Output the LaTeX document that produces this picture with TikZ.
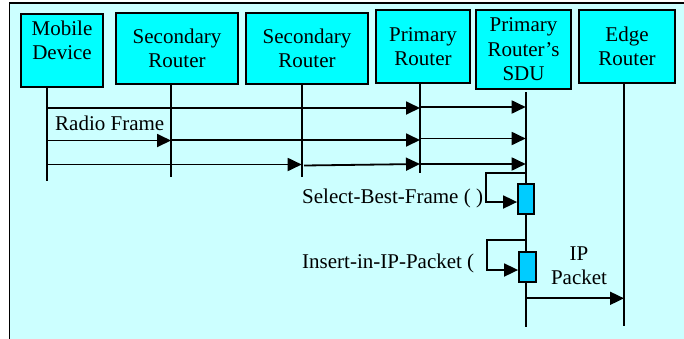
\documentclass[tikz,border=0pt]{standalone}
\usepackage{fontspec}
\setmainfont{Liberation Serif}
\usetikzlibrary{arrows.meta}
\definecolor{bgc}{RGB}{204,255,255}
\definecolor{boxc}{RGB}{0,255,255}
\definecolor{actc}{RGB}{0,204,255}
\begin{document}
\begin{tikzpicture}[x=1pt,y=-1pt,
  actor/.style={draw,line width=2pt,fill=boxc,inner sep=0pt,outer sep=0pt,align=center,font=\fontsize{21}{24.5}\selectfont},
  life/.style={line width=1.8pt},
  msg/.style={line width=1.8pt,-{Triangle[length=14pt,width=13pt]}},
  act/.style={draw,line width=1.8pt,fill=actc,minimum width=16pt,minimum height=30pt,inner sep=0pt},
  lbl/.style={font=\fontsize{21}{24}\selectfont,inner sep=0pt}]
\clip (0,0) rectangle (684,338);
\fill[white] (0,0) rectangle (684,338);
\draw[line width=1.6pt,fill=bgc] (9.5,2.8) rectangle (700,350);
% actors
\node[actor,minimum width=82pt,minimum height=73pt,text depth=21pt] (mob) at (62,50.5) {Mobile\\Device};
\node[actor,minimum width=122pt,minimum height=71pt] (sec1) at (177,48.5) {Secondary\\Router};
\node[actor,minimum width=122pt,minimum height=71pt] (sec2) at (307,48.5) {Secondary\\Router};
\node[actor,minimum width=94pt,minimum height=73pt] (pri) at (423,46.5) {Primary\\Router};
\node[actor,minimum width=95pt,minimum height=79pt] (sdu) at (523.5,49.5) {Primary\\Router’s\\SDU};
\node[actor,minimum width=96pt,minimum height=73pt] (edg) at (627,46.5) {Edge\\Router};
% lifeline ends
\coordinate (mobB) at (47,181);
\coordinate (sec1B) at (171,177);
\coordinate (sec2B) at (301.7,177);
\coordinate (priB) at (420,173);
\coordinate (sduT) at (525.7,92);
\coordinate (sduB) at (525.7,327);
\coordinate (edgB) at (624,326);
\coordinate (s2o) at (304,165.5);
\draw[life] (mobB |- mob.south) -- (mobB);
\draw[life] (sec1B |- sec1.south) -- (sec1B);
\draw[life] (sec2B |- sec2.south) -- (sec2B);
\draw[life] (priB |- pri.south) -- (priB);
\draw[life] (sduT) -- (sduB);
\draw[life] (edgB |- edg.south) -- (edgB);
% activation boxes
\node[act] (a1) at (526,199) {};
\node[act,minimum width=17pt] (a2) at (527.5,267) {};
% messages
\draw[msg] (mobB |- 0,108) -- (priB |- 0,108);
\draw[msg] (priB |- 0,107) -- (sduB |- 0,107);
\draw[msg] (mobB |- 0,140.5) -- (sec1B |- 0,140.5);
\draw[msg] (sec1B |- 0,140) -- (priB |- 0,140);
\draw[msg] (priB |- 0,138.5) -- (sduB |- 0,138.5);
\draw[msg] (mobB |- 0,164.5) -- (sec2B |- 0,164.5);
\draw[msg] (s2o) -- (priB |- 0,164);
\draw[msg] (priB |- 0,164) -- (sduB |- 0,164);
% self calls
\draw[msg] (sduB |- 0,172.7) -| (486,202) -- (a1.west |- 0,202);
\draw[msg] (sduB |- 0,240.3) -| (487.3,270) -- (a2.west |- 0,270);
% IP packet
\draw[msg] (sduB |- 0,298.3) -- (edgB |- 0,298.3);
% labels
\node[lbl,anchor=base west] (rf) at (55,130.5) {Radio Frame};
\node[lbl,anchor=base west] (sbf) at (302,203.3) {Select-Best-Frame ( )};
\node[lbl,anchor=base west] (iip) at (302,268.3) {Insert-in-IP-Packet (};
\node[lbl,anchor=north,align=center] (ipp) at (579,247) {IP\\Packet};
\end{tikzpicture}
\end{document}
